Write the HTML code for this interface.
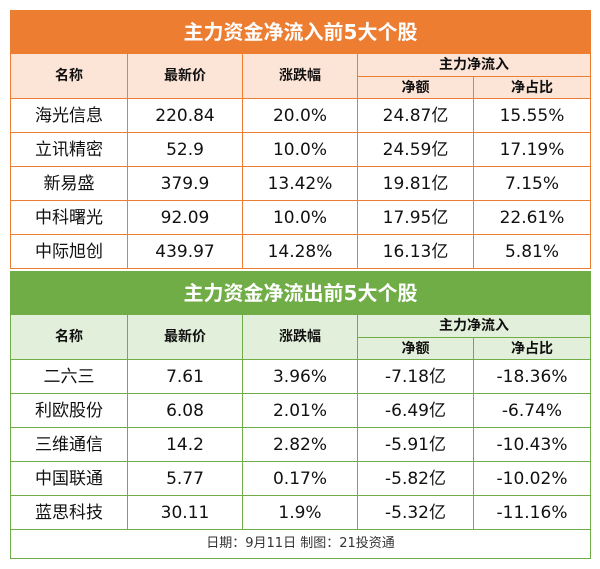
<!DOCTYPE html>
<html><head><meta charset="utf-8"><style>
body{margin:0;width:600px;height:569px;background:#fff;font-family:"DejaVu Sans","Noto Sans CJK SC",sans-serif;position:relative;overflow:hidden}
table{position:absolute;left:10px;border-collapse:collapse;table-layout:fixed;width:580px}
td{text-align:center;padding:0;font-size:17px;color:#111;overflow:hidden;white-space:nowrap;line-height:20px}
.o td{border:1.5px solid #ED7D31}
.g td{border:1.5px solid #70AD47}
.title td{color:#fff;font-weight:bold;font-size:20px}
.o .title td{background:#ED7D31}
.g .title td{background:#70AD47}
.o .hd td{background:#FCE4D6;font-weight:bold;font-size:14px}
.g .hd td{background:#E2EFDA;font-weight:bold;font-size:14px}
.foot td{font-size:13px;color:#333}
</style></head><body>
<table class="o" style="top:10px">
<colgroup><col style="width:117px"><col style="width:115px"><col style="width:115px"><col style="width:116px"><col style="width:117px"></colgroup>
<tr class="title" style="height:43px"><td colspan="5">主力资金净流入前5大个股</td></tr>
<tr class="hd" style="height:23px"><td rowspan="2">名称</td><td rowspan="2">最新价</td><td rowspan="2">涨跌幅</td><td colspan="2">主力净流入</td></tr>
<tr class="hd" style="height:22px"><td>净额</td><td>净占比</td></tr>
<tr style="height:34px"><td>海光信息</td><td>220.84</td><td>20.0%</td><td>24.87亿</td><td>15.55%</td></tr>
<tr style="height:34px"><td>立讯精密</td><td>52.9</td><td>10.0%</td><td>24.59亿</td><td>17.19%</td></tr>
<tr style="height:34px"><td>新易盛</td><td>379.9</td><td>13.42%</td><td>19.81亿</td><td>7.15%</td></tr>
<tr style="height:34px"><td>中科曙光</td><td>92.09</td><td>10.0%</td><td>17.95亿</td><td>22.61%</td></tr>
<tr style="height:34px"><td>中际旭创</td><td>439.97</td><td>14.28%</td><td>16.13亿</td><td>5.81%</td></tr>
</table>
<table class="g" style="top:271px">
<colgroup><col style="width:117px"><col style="width:115px"><col style="width:115px"><col style="width:116px"><col style="width:117px"></colgroup>
<tr class="title" style="height:43px"><td colspan="5">主力资金净流出前5大个股</td></tr>
<tr class="hd" style="height:23px"><td rowspan="2">名称</td><td rowspan="2">最新价</td><td rowspan="2">涨跌幅</td><td colspan="2">主力净流入</td></tr>
<tr class="hd" style="height:22px"><td>净额</td><td>净占比</td></tr>
<tr style="height:34px"><td>二六三</td><td>7.61</td><td>3.96%</td><td>-7.18亿</td><td>-18.36%</td></tr>
<tr style="height:34px"><td>利欧股份</td><td>6.08</td><td>2.01%</td><td>-6.49亿</td><td>-6.74%</td></tr>
<tr style="height:34px"><td>三维通信</td><td>14.2</td><td>2.82%</td><td>-5.91亿</td><td>-10.43%</td></tr>
<tr style="height:34px"><td>中国联通</td><td>5.77</td><td>0.17%</td><td>-5.82亿</td><td>-10.02%</td></tr>
<tr style="height:34px"><td>蓝思科技</td><td>30.11</td><td>1.9%</td><td>-5.32亿</td><td>-11.16%</td></tr>
<tr class="foot" style="height:29px"><td colspan="5">日期：9月11日 制图：21投资通</td></tr>
</table>
</body></html>
